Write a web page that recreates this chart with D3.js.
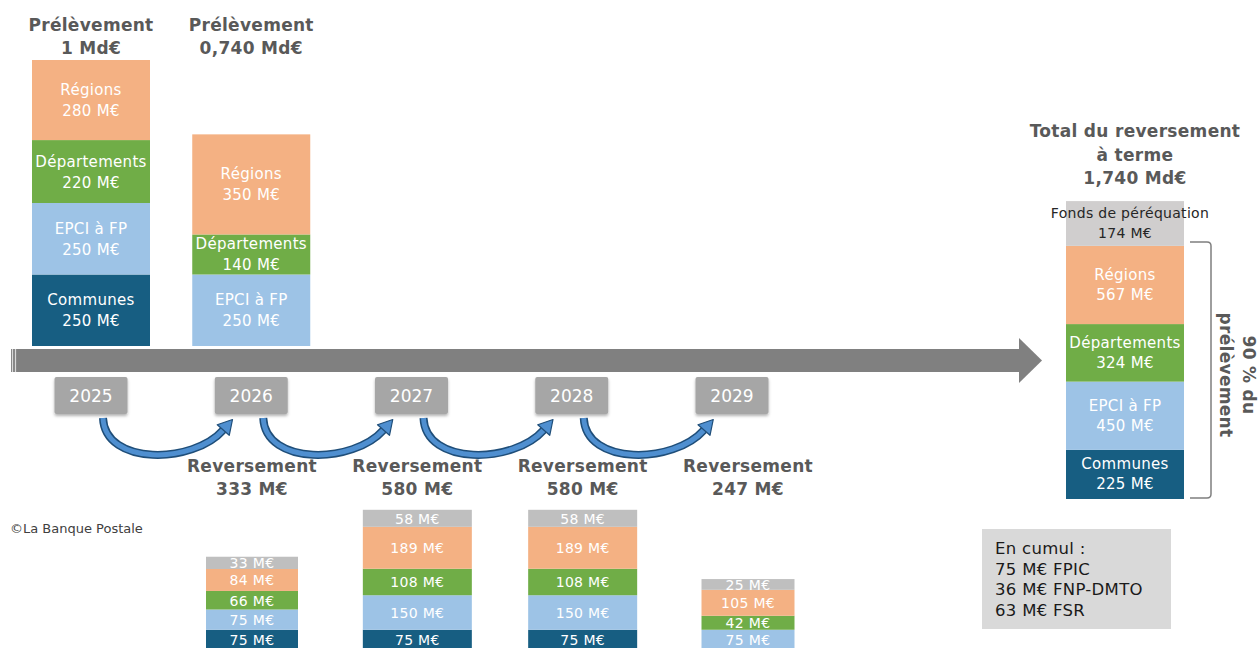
<!DOCTYPE html>
<html>
<head>
<meta charset="utf-8">
<script src="https://cdn.jsdelivr.net/npm/d3@7"></script>
<style>
  body { margin: 0; background: #fff; }
  svg { display: block; font-family: "DejaVu Sans", "Noto Sans", sans-serif; }
</style>
</head>
<body>
<div id="chart"><svg width="1260" height="648"></svg></div>
<script>
// Data
const categories = ["Communes", "EPCI à FP", "Départements", "Régions", "Fonds de péréquation"];
const years = ["2025", "2026", "2027", "2028", "2029"];

const prelevementYears = ["2025", "2026"];
const prelevementTotals = ["1 Md€", "0,740 Md€"];
const prelevementCommunes = [250, 0];
const prelevementEpci = [250, 250];
const prelevementDepartements = [220, 140];
const prelevementRegions = [280, 350];

const reversementYears = ["2026", "2027", "2028", "2029"];
const reversementTotals = [333, 580, 580, 247];
const reversementCommunes = [75, 75, 75, 0];
const reversementEpci = [75, 150, 150, 75];
const reversementDepartements = [66, 108, 108, 42];
const reversementRegions = [84, 189, 189, 105];
const reversementFonds = [33, 58, 58, 25];

const totalLabel = ["Total du reversement", "à terme", "1,740 Md€"];
const totalValues = [225, 450, 324, 567, 174];   // same order as categories

const cumulLines = ["En cumul :", "75 M€ FPIC", "36 M€ FNP-DMTO", "63 M€ FSR"];

const colors = {
    "Communes": "#175e82",
    "EPCI à FP": "#9dc3e6",
    "Départements": "#70ad47",
    "Régions": "#f4b183",
    "Fonds de péréquation": "#bfbfbf"
};

const svg = d3.select('#chart svg');
const headColor = '#595959';

svg.append('defs').append('filter')
    .attr('id', 'shadow')
    .attr('x', '-20%').attr('y', '-20%').attr('width', '140%').attr('height', '150%')
    .append('feDropShadow')
    .attr('dx', 0).attr('dy', 2).attr('stdDeviation', 1.5)
    .attr('flood-color', '#000').attr('flood-opacity', 0.3);

// x positions of the years and of the reversement columns
const xYear = d3.scalePoint().domain(years).range([91, 732]);
const xRev = d3.scalePoint().domain(reversementYears).range([252, 748]);

// helper: stack segments upward from a baseline
function stackSegments(values, hScale, baseline) {
    let y = baseline;
    const segs = [];
    values.forEach((v, i) => {
        if (!v) return;
        const h = hScale(v);
        y -= h;
        segs.push({ cat: categories[i], value: v, y: y, h: h });
    });
    return segs;
}

function boldLines(lines, cx, y0, step, size) {
    lines.forEach((t, i) => {
        svg.append('text')
            .attr('x', cx).attr('y', y0 + i * step)
            .attr('text-anchor', 'middle')
            .attr('font-weight', 'bold')
            .attr('font-size', size)
            .attr('letter-spacing', 0.3)
            .attr('fill', headColor)
            .text(t);
    });
}

// ---- Prélèvement bars (top)
const topScale = d3.scaleLinear().domain([0, 1000]).range([0, 286]);
const topBaseline = 346;
const topWidth = 118;

prelevementYears.forEach((yr, i) => {
    const cx = xYear(yr);
    boldLines(["Prélèvement", prelevementTotals[i]], cx, 31, 23, 17);
    const segs = stackSegments(
        [prelevementCommunes[i], prelevementEpci[i], prelevementDepartements[i], prelevementRegions[i]],
        topScale, topBaseline);
    const g = svg.append('g');
    g.selectAll('rect').data(segs).enter().append('rect')
        .attr('x', cx - topWidth / 2).attr('width', topWidth)
        .attr('y', d => d.y).attr('height', d => d.h)
        .attr('fill', d => colors[d.cat]);
    segs.forEach(d => {
        const mid = d.y + d.h / 2;
        g.append('text').attr('x', cx).attr('y', mid - 10)
            .attr('text-anchor', 'middle').attr('dominant-baseline', 'central')
            .attr('font-size', 15).attr('letter-spacing', 0.3).attr('fill', '#fff')
            .text(d.cat);
        g.append('text').attr('x', cx).attr('y', mid + 11)
            .attr('text-anchor', 'middle').attr('dominant-baseline', 'central')
            .attr('font-size', 15).attr('letter-spacing', 0.3).attr('fill', '#fff')
            .text(d.value + ' M€');
    });
});

// ---- Timeline arrow
svg.append('rect').attr('x', 11).attr('y', 349).attr('width', 1009).attr('height', 23).attr('fill', '#808080');
[12.5, 15.5].forEach(x => {
    svg.append('rect').attr('x', x - 0.6).attr('y', 349).attr('width', 1.2).attr('height', 23).attr('fill', '#d9d9d9');
});
svg.append('path').attr('d', 'M1019,338 L1042,360.5 L1019,383 Z').attr('fill', '#808080');

// ---- Year boxes
const yearBox = svg.append('g');
years.forEach(yr => {
    const cx = xYear(yr);
    yearBox.append('rect')
        .attr('x', cx - 36.5).attr('y', 377).attr('width', 73).attr('height', 37).attr('rx', 2)
        .attr('fill', '#a6a6a6').attr('filter', 'url(#shadow)');
    yearBox.append('text')
        .attr('x', cx).attr('y', 396)
        .attr('text-anchor', 'middle').attr('dominant-baseline', 'central')
        .attr('font-size', 17).attr('fill', '#fff')
        .text(yr);
});

// ---- Curved arrows between years
for (let i = 0; i < years.length - 1; i++) {
    const x0 = xYear(years[i]) + 12;
    const x1 = xYear(years[i + 1]) - 22;
    const ex = x1 - 6, ey = 430;
    const c2x = x1 - 36, c2y = 464;
    const body = `M${x0},418 C${x0 + 2},466 ${c2x},${c2y} ${ex},${ey}`;
    svg.append('path').attr('d', body).attr('fill', 'none')
        .attr('stroke', '#1f4e79').attr('stroke-width', 8);
    svg.append('path').attr('d', body).attr('fill', 'none')
        .attr('stroke', '#4f8fd0').attr('stroke-width', 5);
    let dx = ex - c2x, dy = ey - c2y;
    const len = Math.hypot(dx, dy);
    dx /= len; dy /= len;
    const px = -dy, py = dx;
    const tip = [ex + dx * 14, ey + dy * 14];
    const b1 = [ex + px * 8, ey + py * 8];
    const b2 = [ex - px * 8, ey - py * 8];
    svg.append('path')
        .attr('d', `M${tip[0]},${tip[1]} L${b1[0]},${b1[1]} L${b2[0]},${b2[1]} Z`)
        .attr('fill', '#4f8fd0').attr('stroke', '#1f4e79').attr('stroke-width', 1.2)
        .attr('stroke-linejoin', 'round');
}

// ---- Reversement bars (bottom)
const botScale = d3.scaleLinear().domain([0, 200]).range([6, 44]);
const botBaseline = 650;
const botWidths = [92, 109, 109, 93];

reversementYears.forEach((yr, i) => {
    const cx = xRev(yr);
    boldLines(["Reversement", reversementTotals[i] + ' M€'], cx, 472, 23, 17);
    const segs = stackSegments(
        [reversementCommunes[i], reversementEpci[i], reversementDepartements[i], reversementRegions[i], reversementFonds[i]],
        botScale, botBaseline);
    const w = botWidths[i];
    const g = svg.append('g');
    g.selectAll('rect').data(segs).enter().append('rect')
        .attr('x', cx - w / 2).attr('width', w)
        .attr('y', d => d.y).attr('height', d => d.h)
        .attr('fill', d => colors[d.cat]);
    g.selectAll('text').data(segs).enter().append('text')
        .attr('x', cx).attr('y', d => d.y + d.h / 2 + 0.5)
        .attr('text-anchor', 'middle').attr('dominant-baseline', 'central')
        .attr('font-size', 14).attr('letter-spacing', 0.3).attr('fill', '#fff')
        .text(d => d.value + ' M€');
});

// ---- Total bar (right)
const totScale = d3.scaleLinear().domain([0, 600]).range([30, 81]);
const totBaseline = 499;
const totCx = 1125, totWidth = 118;
boldLines(totalLabel, 1135, 137, 23.5, 17);

const totSegs = stackSegments(totalValues, totScale, totBaseline);
const tg = svg.append('g');
tg.selectAll('rect').data(totSegs).enter().append('rect')
    .attr('x', totCx - totWidth / 2).attr('width', totWidth)
    .attr('y', d => d.y).attr('height', d => d.h)
    .attr('fill', d => d.cat === 'Fonds de péréquation' ? '#d0cece' : colors[d.cat]);
totSegs.forEach(d => {
    const mid = d.y + d.h / 2;
    const fonds = d.cat === 'Fonds de péréquation';
    const col = fonds ? '#262626' : '#fff';
    tg.append('text').attr('x', totCx + (fonds ? 5 : 0)).attr('y', mid - 10)
        .attr('text-anchor', 'middle').attr('dominant-baseline', 'central')
        .attr('font-size', fonds ? 14 : 15).attr('letter-spacing', 0.3).attr('fill', col)
        .text(d.cat);
    tg.append('text').attr('x', totCx).attr('y', mid + 10)
        .attr('text-anchor', 'middle').attr('dominant-baseline', 'central')
        .attr('font-size', fonds ? 14 : 15).attr('letter-spacing', 0.3).attr('fill', col)
        .text(d.value + ' M€');
});

// bracket "90 % du prélèvement"
const bracketTop = totSegs[totSegs.length - 1].y + totSegs[totSegs.length - 1].h - 4;
svg.append('path')
    .attr('d', `M1190,${bracketTop} H1207 Q1211,${bracketTop} 1211,${bracketTop + 4} V494 Q1211,498 1207,498 H1190`)
    .attr('fill', 'none').attr('stroke', '#7f7f7f').attr('stroke-width', 1.5);
[["90 % du", 1249], ["prélèvement", 1226]].forEach(([t, x]) => {
    svg.append('text')
        .attr('transform', `translate(${x},375) rotate(90)`)
        .attr('text-anchor', 'middle').attr('dominant-baseline', 'central')
        .attr('font-weight', 'bold').attr('font-size', 17).attr('letter-spacing', 0.3)
        .attr('fill', headColor)
        .text(t);
});

// ---- Source
svg.append('text').attr('x', 10).attr('y', 533)
    .attr('font-size', 13).attr('fill', '#404040')
    .text('©La Banque Postale');

// ---- Cumul box
svg.append('rect').attr('x', 982).attr('y', 529).attr('width', 189).attr('height', 100).attr('fill', '#d9d9d9');
cumulLines.forEach((t, i) => {
    svg.append('text').attr('x', 995).attr('y', 554 + i * 20.7)
        .attr('font-size', 16.5).attr('letter-spacing', 0.3).attr('fill', '#1a1a1a')
        .text(t);
});
</script>
</body>
</html>
